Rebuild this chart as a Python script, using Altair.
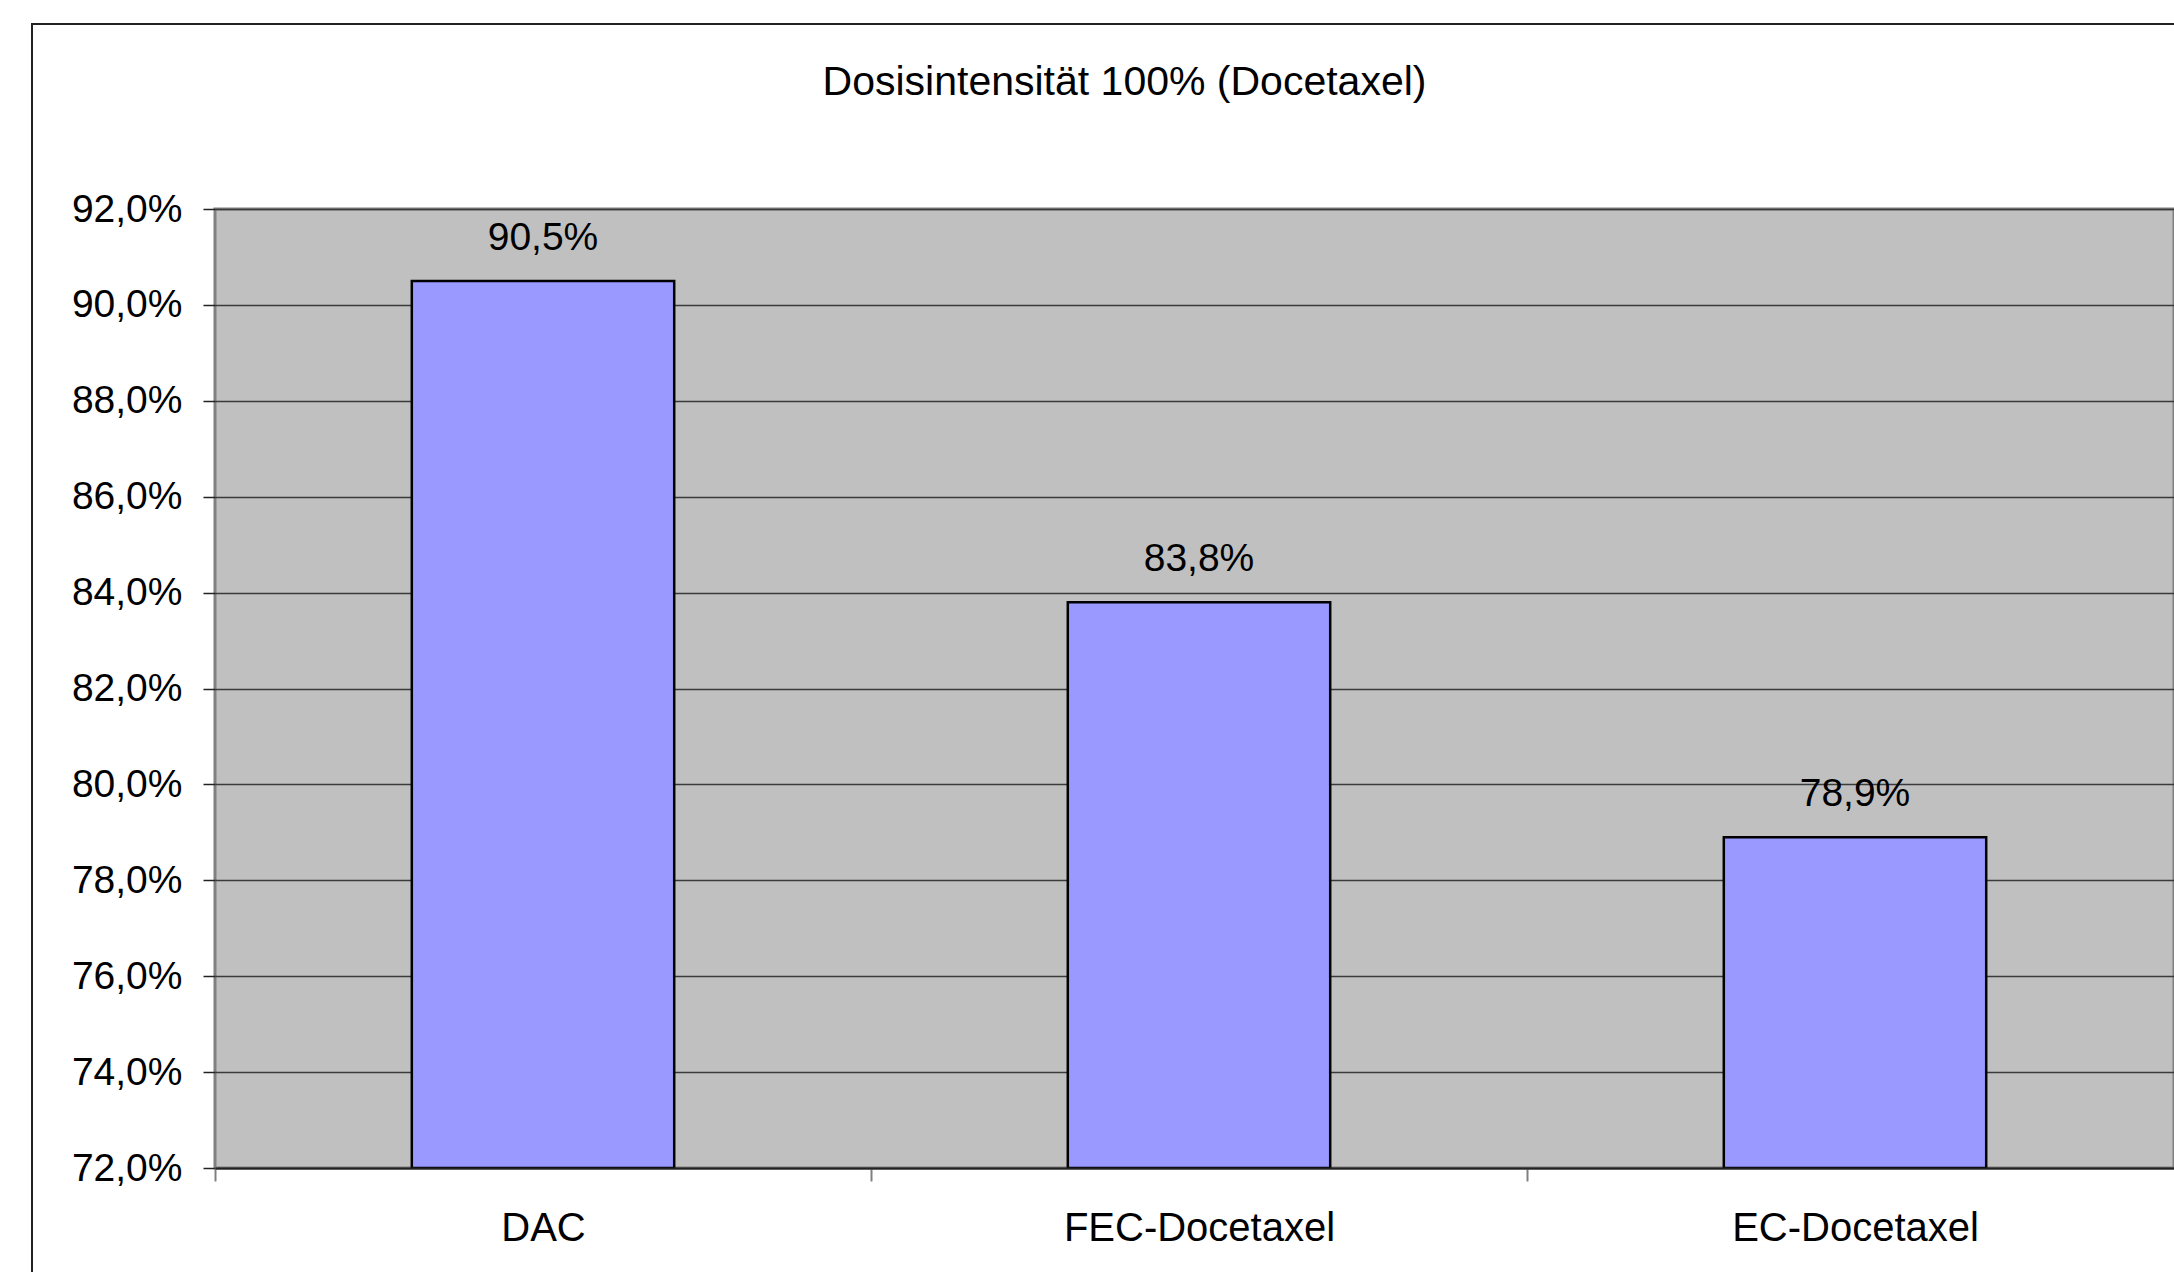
import altair as alt
import pandas as pd

# Regimens and their achieved share of full docetaxel dose intensity (%)
regimens = ["DAC", "FEC-Docetaxel", "EC-Docetaxel"]
dose_share = [90.5, 83.8, 78.9]
y_ticks = [72, 74, 76, 78, 80, 82, 84, 86, 88, 90, 92]

title_text = "Dosisintensität 100% (Docetaxel)"

df = pd.DataFrame({"regimen": regimens, "share": dose_share})

FONT = "Liberation Sans"

x_enc = alt.X(
    "regimen:N",
    sort=regimens,
    scale=alt.Scale(range=[0, 1968], paddingInner=0, paddingOuter=0),
    axis=alt.Axis(
        title=None,
        labelAngle=0,
        labelFont=FONT,
        labelFontSize=40,
        labelColor="black",
        labelPadding=27,
        labelLimit=1000,
        tickBand="extent",
        tickSize=13,
        tickColor="#808080",
        tickWidth=2,
        domainColor="#222222",
        domainWidth=2,
        grid=False,
        zindex=1,
    ),
)

y_enc = alt.Y(
    "share:Q",
    scale=alt.Scale(domain=[72, 92], nice=False, zero=False),
    axis=alt.Axis(
        title=None,
        values=y_ticks,
        labelExpr="replace(format(datum.value, '.1f'), '.', ',') + '%'",
        labelFont=FONT,
        labelFontSize=39,
        labelColor="black",
        labelPadding=21,
        tickSize=12,
        tickColor="#222222",
        tickWidth=1.5,
        domain=False,
        grid=True,
        gridColor="#3a3a3a",
        gridWidth=1.5,
    ),
)

bars = alt.Chart(df).mark_bar(
    color="#9999FF", stroke="black", strokeWidth=2.5, clip=True,
    width={"band": 0.4},
).encode(x=x_enc, y=y_enc, y2=alt.datum(72))

labels = alt.Chart(df).transform_calculate(
    label="replace(format(datum.share, '.1f'), '.', ',') + '%'"
).mark_text(
    font=FONT, fontSize=39, color="black", baseline="alphabetic", dy=-31
).encode(x=x_enc, y=y_enc, text="label:N")

# Outer chart frame, running off the right and bottom edges
frame = alt.Chart(pd.DataFrame({"k": [0]})).mark_rect(
    fill="transparent", stroke="#222222", strokeWidth=2, clip=False
).encode(
    x=alt.value(-183),
    y=alt.value(-185),
    x2=alt.value(2100),
    y2=alt.value(1200),
)

chart = alt.layer(frame, bars, labels).properties(
    width=1959,
    height=959,
    background="white",
    autosize=alt.AutoSizeParams(type="none"),
    padding={"left": 215, "top": 209, "right": 0, "bottom": 104},
    title=alt.TitleParams(
        text=title_text,
        font=FONT,
        fontSize=41,
        fontWeight="normal",
        color="black",
        anchor="middle",
        frame="group",
        dx=-70,
        dy=113,
        baseline="alphabetic",
        offset=0,
    ),
).configure_view(
    fill="#C0C0C0", stroke="#808080", strokeWidth=3
)

chart.save("out.html", embed_options={"renderer": "svg", "actions": False})
